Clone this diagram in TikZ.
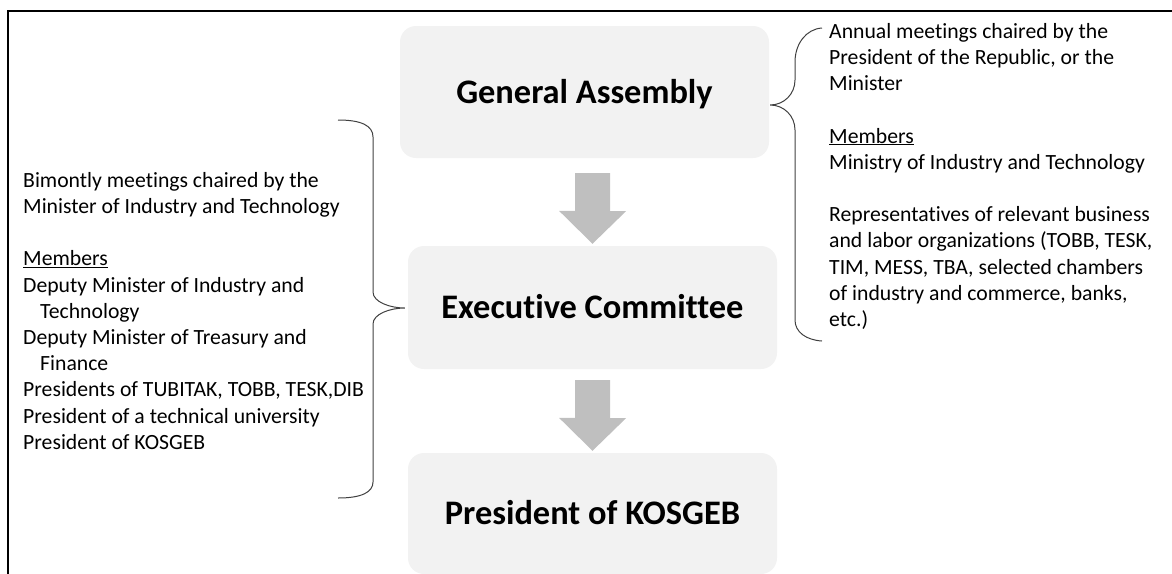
\documentclass[tikz,border=0pt]{standalone}
\usepackage{fontspec}
\setmainfont{Carlito}[Ligatures=NoCommon]
\usetikzlibrary{calc}
\definecolor{boxfill}{HTML}{F2F2F2}
\definecolor{flowgray}{HTML}{BFBFBF}
\definecolor{bracegray}{HTML}{404040}
\begin{document}
\begin{tikzpicture}[x=1pt,y=-1pt,
  stage/.style={fill=boxfill, rounded corners=16pt, minimum width=369pt,
    inner sep=0pt, text height=22pt, text depth=0pt,
    font=\fontsize{34.4}{40}\selectfont\bfseries},
  note/.style={anchor=north west, inner sep=0pt, align=left,
    font=\fontsize{21.7}{26.2}\selectfont},
  flow/.style={fill=flowgray},
  brace/.style={draw=bracegray, line width=1pt},
  frame/.style={draw=black, line width=2.3pt}]
\useasboundingbox (0,0) rectangle (1172,573);

% outer frame (top and left edges only)
\draw[frame] (1176,11) -- (8,11) -- (8,577);

% the three stages
\node[stage, minimum height=132pt] (ga) at (584.5,92) {General Assembly};
\node[stage, minimum height=123pt] (ec) at (592.5,307.5) {Executive Committee};
\node[stage, minimum height=121pt] (pk) at (592.5,513.5) {President of KOSGEB};

% block arrows between the stages
\path (ga.south -| ec.north) ++(0,15) coordinate (a1top);
\path (ec.north) ++(0,-2) coordinate (a1tip);
\fill[flow] (a1top) ++(-17.5,0) -- ++(35,0) -- ++(0,38) -- ++(16,0) -- (a1tip)
  -- ++(-33.5,-33) -- ++(16,0) -- cycle;
\path (ec.south) ++(0,11) coordinate (a2top);
\path (pk.north) ++(0,-2) coordinate (a2tip);
\fill[flow] (a2top) ++(-17.5,0) -- ++(35,0) -- ++(0,38) -- ++(16,0) -- (a2tip)
  -- ++(-33.5,-33) -- ++(16,0) -- cycle;

% left brace pointing at the Executive Committee
\coordinate (ltop) at (338,120);
\coordinate (lbot) at (338,498);
\coordinate (lcusp) at ($(ec.west)+(-3,0.5)$);
\draw[brace] (ltop) .. controls (362,120) and (373,126) .. (373,137) -- (373,292)
  .. controls (373,302) and (390,308) .. (lcusp)
  .. controls (390,308) and (373,314) .. (373,324) -- (373,482)
  .. controls (373,492) and (362,498) .. (lbot);

% right brace pointing at the General Assembly
\coordinate (rtop) at (822,28);
\coordinate (rbot) at (822,341);
\coordinate (rcusp) at ($(ga.east)+(1,13)$);
\draw[brace] (rtop) .. controls (806,29) and (795,44) .. (795,62) -- (795,80)
  .. controls (795,94) and (784,105) .. (rcusp)
  .. controls (784,105) and (795,116) .. (795,130) -- (795,320)
  .. controls (795,332) and (806,340) .. (rbot);

% notes
\node[note] (lnote) at (23,172) {Bimontly meetings chaired by the\\
  Minister of Industry and Technology\\[26.2pt]
  \underline{Members}\\
  Deputy Minister of Industry and\\
  \hspace*{17pt}Technology\\
  Deputy Minister of Treasury and\\
  \hspace*{17pt}Finance\\
  Presidents of TUBITAK, TOBB, TESK,DIB\\
  President of a technical university\\
  President of KOSGEB};

\node[note] (rnote) at (829,23) {Annual meetings chaired by the\\
  President of the Republic, or the\\
  Minister\\[26.2pt]
  \underline{Members}\\
  Ministry of Industry and Technology\\[26.2pt]
  Representatives of relevant business\\
  and labor organizations (TOBB, TESK,\\
  TIM, MESS, TBA, selected chambers\\
  of industry and commerce, banks,\\
  etc.)};
\end{tikzpicture}
\end{document}
